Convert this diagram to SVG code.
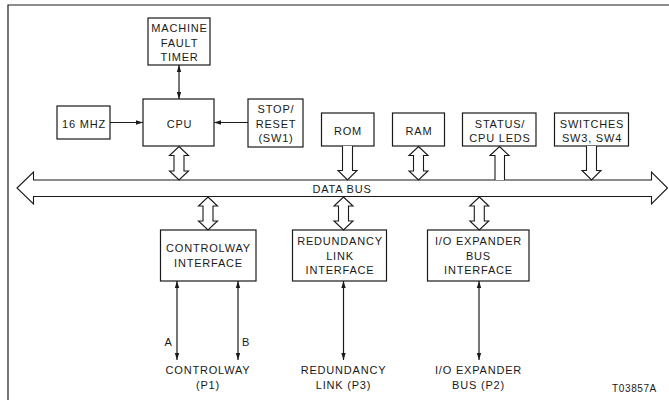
<svg xmlns="http://www.w3.org/2000/svg" width="669" height="400" viewBox="0 0 669 400">
<defs>
<style>
.box{fill:#fff;stroke:#1a1a1a;stroke-width:1.2}
.t{font-family:"Liberation Sans",Arial,Helvetica,sans-serif;font-size:11px;letter-spacing:0.8px;fill:#1a1a1a;text-anchor:middle}
.ts{font-family:"Liberation Sans",Arial,Helvetica,sans-serif;font-size:10px;letter-spacing:0.6px;fill:#1a1a1a;text-anchor:middle}
.ln{stroke:#1a1a1a;stroke-width:1.2;fill:none}
.ha{fill:#fff;stroke:#1a1a1a;stroke-width:1.1;stroke-linejoin:miter}
</style>
<marker id="ah" markerWidth="8" markerHeight="6" refX="7" refY="3" orient="auto-start-reverse" markerUnits="userSpaceOnUse">
<path d="M0,0.8 L7,3 L0,5.2 Z" fill="#1a1a1a"/>
</marker>
</defs>
<rect width="669" height="400" fill="#fff"/>
<path class="ln" d="M8,400 L8,5 L669,5" stroke-width="1.6"/>

<g id="databus">
<path class="ha" d="M17,188 L33.5,172 L33.5,180 L651.5,180 L651.5,172 L667.5,188 L651.5,204 L651.5,196.5 L33.5,196.5 L33.5,204 Z"/>
<text class="t" x="342" y="192.5">DATA BUS</text>
</g>

<g id="timer"><rect class="box" x="148" y="18" width="62" height="47"/>
<text class="t" x="179.5" y="31.5">MACHINE</text><text class="t" x="179.5" y="46.5">FAULT</text><text class="t" x="179.5" y="61">TIMER</text></g>
<g id="mhz"><rect class="box" x="57" y="106" width="53" height="33"/><text class="t" x="84" y="128">16 MHZ</text></g>
<g id="cpu"><rect class="box" x="143" y="99" width="71" height="47"/><text class="t" x="179.5" y="128">CPU</text></g>
<g id="stop"><rect class="box" x="248" y="99" width="55" height="48"/>
<text class="t" x="276" y="112.5">STOP/</text><text class="t" x="276" y="127.5">RESET</text><text class="t" x="276" y="141.5">(SW1)</text></g>
<g id="rom"><rect class="box" x="321.5" y="113" width="52.5" height="33"/><text class="t" x="348" y="135">ROM</text></g>
<g id="ram"><rect class="box" x="392.5" y="113" width="52" height="33"/><text class="t" x="419" y="135">RAM</text></g>
<g id="status"><rect class="box" x="462.5" y="113" width="73.5" height="33"/>
<text class="t" x="500" y="127.5">STATUS/</text><text class="t" x="500" y="141.5">CPU LEDS</text></g>
<g id="switches"><rect class="box" x="554.5" y="113" width="74" height="33"/>
<text class="t" x="592" y="127.5">SWITCHES</text><text class="t" x="592" y="141.5">SW3, SW4</text></g>

<g id="controlway"><rect class="box" x="160.5" y="230" width="95.5" height="51"/>
<text class="t" x="208.5" y="251.5">CONTROLWAY</text><text class="t" x="208.5" y="266.5">INTERFACE</text></g>
<g id="redundancy"><rect class="box" x="292.5" y="230" width="94" height="51"/>
<text class="t" x="340" y="245">REDUNDANCY</text><text class="t" x="340" y="259.5">LINK</text><text class="t" x="340" y="274">INTERFACE</text></g>
<g id="ioexpander"><rect class="box" x="427.5" y="230" width="101.5" height="51"/>
<text class="t" x="478.5" y="245">I/O EXPANDER</text><text class="t" x="478.5" y="259.5">BUS</text><text class="t" x="478.5" y="274">INTERFACE</text></g>

<g id="connectors">
<line class="ln" x1="179" y1="65" x2="179" y2="99" marker-start="url(#ah)" marker-end="url(#ah)"/>
<line class="ln" x1="110" y1="122.5" x2="143" y2="122.5" marker-end="url(#ah)"/>
<line class="ln" x1="248" y1="122.5" x2="214" y2="122.5" marker-end="url(#ah)"/>
<line class="ln" x1="177" y1="281" x2="177" y2="360" marker-start="url(#ah)" marker-end="url(#ah)"/>
<line class="ln" x1="238" y1="281" x2="238" y2="360" marker-start="url(#ah)" marker-end="url(#ah)"/>
<line class="ln" x1="343.5" y1="281" x2="343.5" y2="360" marker-start="url(#ah)" marker-end="url(#ah)"/>
<line class="ln" x1="479" y1="281" x2="479" y2="360" marker-start="url(#ah)" marker-end="url(#ah)"/>
<!-- hollow bus arrows -->
<path class="ha" d="M179,146.5 L188.5,155.5 L184,155.5 L184,171 L188.5,171 L179,180 L169.5,171 L174,171 L174,155.5 L169.5,155.5 Z"/>
<path class="ha" d="M418.5,146.5 L428,155.5 L423.5,155.5 L423.5,171 L428,171 L418.5,180 L409,171 L413.5,171 L413.5,155.5 L409,155.5 Z"/>
<path class="ha" d="M342.5,146 L342.5,170.5 L338,170.5 L347.5,180 L357,170.5 L352.5,170.5 L352.5,146"/>
<path class="ha" d="M586.5,146 L586.5,170.5 L582,170.5 L591.5,180 L601,170.5 L596.5,170.5 L596.5,146"/>
<path class="ha" d="M495,180 L495,155.5 L490,155.5 L499.5,146.5 L509,155.5 L504.5,155.5 L504.5,180"/>
<path class="ha" d="M208,197 L217.5,206 L213,206 L213,221 L217.5,221 L208,230 L198.5,221 L203,221 L203,206 L198.5,206 Z"/>
<path class="ha" d="M343.5,197 L353,206 L348.5,206 L348.5,221 L353,221 L343.5,230 L334,221 L338.5,221 L338.5,206 L334,206 Z"/>
<path class="ha" d="M479.3,197 L488.8,206 L484.3,206 L484.3,221 L488.8,221 L479.3,230 L469.8,221 L474.3,221 L474.3,206 L469.8,206 Z"/>
</g>

<text class="t" x="168.5" y="345.5">A</text>
<text class="t" x="246" y="345.5">B</text>
<text class="t" x="208" y="374">CONTROLWAY</text>
<text class="t" x="208" y="389">(P1)</text>
<text class="t" x="343.5" y="374">REDUNDANCY</text>
<text class="t" x="343.5" y="389">LINK (P3)</text>
<text class="t" x="478.5" y="374">I/O EXPANDER</text>
<text class="t" x="478.5" y="389">BUS (P2)</text>
<text class="ts" x="634.5" y="392">T03857A</text>
</svg>
